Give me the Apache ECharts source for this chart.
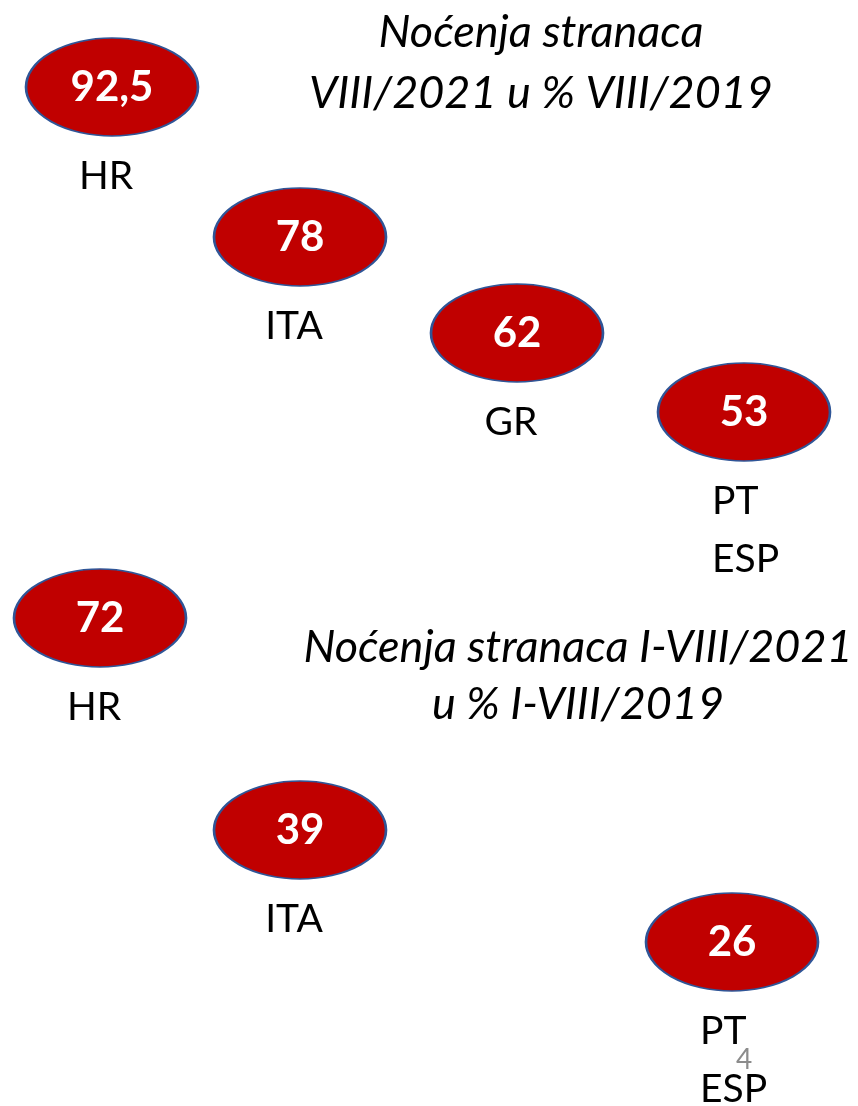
<!DOCTYPE html>
<html>
<head>
<meta charset="utf-8">
<script src="https://cdn.jsdelivr.net/npm/echarts@6/dist/echarts.min.js"></script>
<style>
    html, body { margin: 0; padding: 0; background: #fff; }
    #chart { width: 858px; height: 1106px; }
</style>
</head>
<body>
<div id="chart"></div>
<script>
// VIII/2021 u % VIII/2019
const countriesAug = ["HR", "ITA", "GR", "PT\nESP"];
const valuesAug = [92.5, 78, 62, 53];
// I-VIII/2021 u % I-VIII/2019
const countriesYtd = ["HR", "ITA", "PT\nESP"];
const valuesYtd = [72, 39, 26];

// slide layout (centre of each ellipse, in page units)
const posAug = [[112, 87], [300, 237], [517, 333], [744, 412]];
const posYtd = [[100, 618], [300, 830], [732, 942]];

const ellipse = "path://M0,50A100,50,0,1,1,200,50A100,50,0,1,1,0,50Z";
const font = "Lato";

function valueSeries(values, pos) {
    return {
        type: "scatter",
        symbol: ellipse,
        symbolSize: [172, 98],
        itemStyle: { color: "#c00000", borderColor: "#2f5597", borderWidth: 2, opacity: 1 },
        label: {
            show: true,
            position: "inside",
            color: "#fff",
            fontFamily: font,
            fontWeight: "bold",
            fontSize: 42,
            formatter: (p) => String(p.value[2]).replace(".", ","),
        },
        emphasis: { disabled: true },
        data: values.map((v, i) => [pos[i][0], pos[i][1], v]),
        z: 2,
    };
}

function nameSeries(names, pos) {
    return {
        type: "scatter",
        symbolSize: 0,
        silent: true,
        itemStyle: { opacity: 1 },
        label: {
            show: true,
            position: "inside",
            color: "#000",
            opacity: 1,
            fontFamily: font,
            fontSize: 39,
            lineHeight: 58,
            formatter: (p) => p.name,
        },
        data: names.map((n, i) => {
            const multi = n.indexOf("\n") >= 0;
            return {
                name: n,
                value: [pos[i][0], pos[i][1]],
                label: multi
                    ? { align: "left", offset: [-32, 118] }
                    : { align: "center", offset: [-6, 89] },
            };
        }),
        z: 3,
    };
}

let myChart = echarts.init(document.getElementById("chart"));
myChart.setOption({
    animation: false,
    grid: { left: 0, right: 0, top: 0, bottom: 0 },
    xAxis: { type: "value", min: 0, max: 858, show: false },
    yAxis: { type: "value", min: 0, max: 1106, inverse: true, show: false },
    graphic: [
        {
            type: "text",
            x: 541,
            y: 63,
            style: {
                text: "Noćenja stranaca\nVIII/2021 u % VIII/2019",
                font: "italic 45px Lato",
                fill: "#000",
                align: "center",
                verticalAlign: "middle",
                lineHeight: 61,
            },
        },
        {
            type: "text",
            x: 578,
            y: 676,
            style: {
                text: "Noćenja stranaca I-VIII/2021\nu % I-VIII/2019",
                font: "italic 45px Lato",
                fill: "#000",
                align: "center",
                verticalAlign: "middle",
                lineHeight: 57,
            },
        },
        {
            type: "text",
            x: 744,
            y: 1060,
            style: {
                text: "4",
                font: "28px Lato",
                fill: "#8c8c8c",
                align: "center",
                verticalAlign: "middle",
            },
        },
    ],
    series: [
        valueSeries(valuesAug, posAug),
        nameSeries(countriesAug, posAug),
        valueSeries(valuesYtd, posYtd),
        nameSeries(countriesYtd, posYtd),
    ],
});
</script>
</body>
</html>
